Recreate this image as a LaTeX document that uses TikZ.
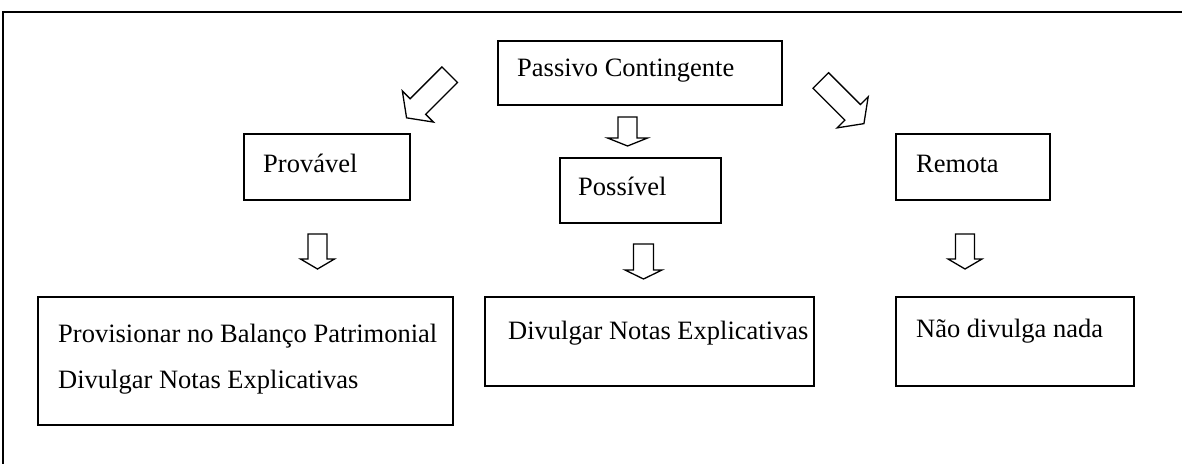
\documentclass[tikz,border=0pt]{standalone}
\usepackage{fontspec}
\setmainfont{Liberation Serif}
\newcommand\myblockarrow[6]{%
  \draw[arrowline,shift={#1},rotate=#2] (0,-#3) -- (#5,-#3) -- (#5,-#4) -- ({#5+#6},0) -- (#5,#4) -- (#5,#3) -- (0,#3) -- cycle;}
\tikzset{
  box/.style={draw,line width=1.5pt,inner sep=0pt,anchor=north west},
  txt/.style={anchor=base west,inner sep=0pt,font=\fontsize{26.5}{46}\selectfont},
  arrowline/.style={draw,line width=1.3pt,line join=miter},
  frameline/.style={line width=1.8pt}
}
\begin{document}
\begin{tikzpicture}[x=1pt,y=-1pt]
\useasboundingbox (0,0) rectangle (1182,463);
% outer frame
\draw[frameline] (3,470) -- (3,12) -- (1190,12);
% boxes
\node[box,minimum width=284pt,minimum height=64pt] (pc) at (497,40) {};
\node[box,minimum width=166pt,minimum height=66pt] (prov) at (243,133) {};
\node[box,minimum width=161pt,minimum height=65pt] (poss) at (559,157) {};
\node[box,minimum width=154pt,minimum height=66pt] (rem) at (895,133) {};
\node[box,minimum width=415pt,minimum height=128pt] (b1) at (37,296) {};
\node[box,minimum width=329pt,minimum height=89pt] (b2) at (484,296) {};
\node[box,minimum width=238pt,minimum height=89pt] (b3) at (895,296) {};
% texts
\node[txt] (tpc) at (517,76) {Passivo Contingente};
\node[txt] (tprov) at (263,172) {Provável};
\node[txt] (tposs) at (578,195) {Possível};
\node[txt] (trem) at (916,172) {Remota};
\node[txt] (tb1a) at (58,342) {Provisionar no Balanço Patrimonial};
\node[txt] (tb1b) at (58,388) {Divulgar Notas Explicativas};
\node[txt] (tb2) at (508,339) {Divulgar Notas Explicativas};
\node[txt] (tb3) at (916,337) {Não divulga nada};
% block arrows
\myblockarrow{(449.7,74.7)}{-135}{11}{22}{45}{16}
\myblockarrow{(820.8,80.5)}{-45}{11}{22}{45}{16}
\myblockarrow{(627.5,117)}{-90}{9.5}{20}{21}{8}
\myblockarrow{(317.5,234)}{-90}{9.5}{17}{25}{10}
\myblockarrow{(643.5,244)}{-90}{10}{18.5}{26}{9}
\myblockarrow{(965,234)}{-90}{9.5}{17}{25}{10}
\end{tikzpicture}
\end{document}
